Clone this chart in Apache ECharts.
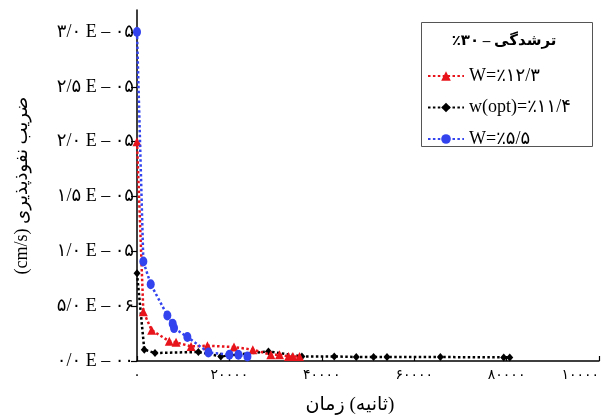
<!DOCTYPE html>
<html><head><meta charset="utf-8">
<script src="https://cdn.jsdelivr.net/npm/echarts@6/dist/echarts.min.js"></script>
<style>html,body{margin:0;padding:0;background:#fff}#c{width:602px;height:417px}</style>
</head><body><div id="c"></div>
<script>
// --- data ---
const blueX  = [0, 1370, 2970, 6570, 7730, 8020, 10900, 15450, 20000, 21950, 23900];
const blueY  = [3.0e-5, 9.07e-6, 7.0e-6, 4.15e-6, 3.4e-6, 3.0e-6, 2.19e-6, 7.8e-7, 5.7e-7, 5.7e-7, 4.2e-7];
const redX   = [0, 1370, 3180, 7000, 8450, 11700, 15240, 21000, 25070, 28970, 30840, 32790, 33740, 35170];
const redY   = [2.0e-5, 4.5e-6, 2.8e-6, 1.8e-6, 1.7e-6, 1.33e-6, 1.39e-6, 1.27e-6, 1.03e-6, 5.7e-7, 5.7e-7, 4.2e-7, 4.2e-7, 4.2e-7];
const blackX = [0, 1580, 3900, 13280, 18140, 28450, 35690, 42690, 47460, 51200, 54110, 65660, 79380, 80680];
const blackY = [8.0e-6, 1.03e-6, 7.3e-7, 8.2e-7, 4.2e-7, 8.7e-7, 4.2e-7, 4.2e-7, 3.6e-7, 3.6e-7, 3.6e-7, 3.6e-7, 3.3e-7, 3.3e-7];
const seriesNames = ['W=٪۱۲/۳', 'w(opt)=٪۱۱/۴', 'W=٪۵/۵'];
const xTickValues = [0, 20000, 40000, 60000, 80000, 100000];
const xTickLabels = ['۰', '۲۰۰۰۰', '۴۰۰۰۰', '۶۰۰۰۰', '۸۰۰۰۰', '۱۰۰۰۰'];
const yTickValues = [0, 5e-6, 1e-5, 1.5e-5, 2e-5, 2.5e-5, 3e-5];
const yTickLabels = ['۰/۰ E – ۰۰', '۵/۰ E – ۰۶', '۱/۰ E – ۰۵', '۱/۵ E – ۰۵', '۲/۰ E – ۰۵', '۲/۵ E – ۰۵', '۳/۰ E – ۰۵'];
const legendTitle = '٪۳۰\u200E – ترشدگی';
const xName = 'زمان\u200E (ثانیه)';
const yName = '(cm/s) ضریب نفوذپذیری';

const zip = (xs, ys) => xs.map((x, i) => [x, ys[i]]);
const FONT = '"Liberation Serif", "DejaVu Sans", serif';

const chart = echarts.init(document.getElementById('c'), null, {renderer: 'canvas'});
const dot = (color) => ({color: color, width: 2.5, type: [2.5, 2.4], cap: 'butt'});
chart.setOption({
  animation: false,
  backgroundColor: '#fff',
  grid: {left: 137, right: 3, top: 10, bottom: 56, containLabel: false, outerBoundsMode: 'none'},
  xAxis: {
    type: 'value', min: 0, max: 100000,
    axisLine: {show: true, onZero: false, lineStyle: {color: '#000', width: 1.5}},
    axisTick: {show: true, length: 5, inside: true, customValues: xTickValues, lineStyle: {color: '#000', width: 1.2}},
    axisLabel: {customValues: xTickValues, margin: 7, color: '#000', fontFamily: FONT, fontSize: 14,
      alignMaxLabel: 'right', hideOverlap: false,
      formatter: v => xTickLabels[xTickValues.indexOf(v)] ?? ''},
    splitLine: {show: false},
    name: xName, nameLocation: 'middle', nameGap: 35,
    nameTextStyle: {color: '#000', fontFamily: FONT, fontSize: 19, padding: [0, 36, 0, 0]}
  },
  yAxis: {
    type: 'value', min: 0, max: 3.2e-5,
    axisLine: {show: true, onZero: false, lineStyle: {color: '#000', width: 1.5}},
    axisTick: {show: true, length: 6, customValues: yTickValues, lineStyle: {color: '#000', width: 1.2}},
    axisLabel: {customValues: yTickValues, margin: 3, color: '#000', fontFamily: FONT, fontSize: 18,
      formatter: v => yTickLabels[Math.round(v / 5e-6)] ?? ''},
    splitLine: {show: false},
    name: yName, nameLocation: 'middle', nameGap: 106,
    nameTextStyle: {color: '#000', fontFamily: FONT, fontSize: 18}
  },
  legend: {
    orient: 'vertical', left: 421, top: 62, padding: [5, 5, 5, 6], itemWidth: 36, itemHeight: 12, itemGap: 13.5,
    textStyle: {color: '#000', fontFamily: FONT, fontSize: 18},
    data: seriesNames
  },
  graphic: [
    {type: 'rect', left: 421, top: 22, shape: {width: 171, height: 124}, z: 0,
      style: {fill: '#fff', stroke: '#555', lineWidth: 1}},
    {type: 'text', x: 504, y: 41, z: 10,
      style: {text: legendTitle, fill: '#000', font: 'bold 15px ' + FONT, align: 'center', verticalAlign: 'middle'}}
  ],
  series: [
    {name: seriesNames[0], type: 'line', data: zip(redX, redY), symbol: 'triangle', symbolSize: 9,
      itemStyle: {color: '#e8141c'}, lineStyle: dot('#e8141c'), z: 3},
    {name: seriesNames[1], type: 'line', data: zip(blackX, blackY), symbol: 'diamond', symbolSize: [7, 8],
      itemStyle: {color: '#000'}, lineStyle: dot('#000'), z: 2},
    {name: seriesNames[2], type: 'line', data: zip(blueX, blueY), symbol: 'circle', symbolSize: [8, 10],
      itemStyle: {color: '#3344ee'}, lineStyle: dot('#3344ee'), z: 4}
  ]
});
</script></body></html>
